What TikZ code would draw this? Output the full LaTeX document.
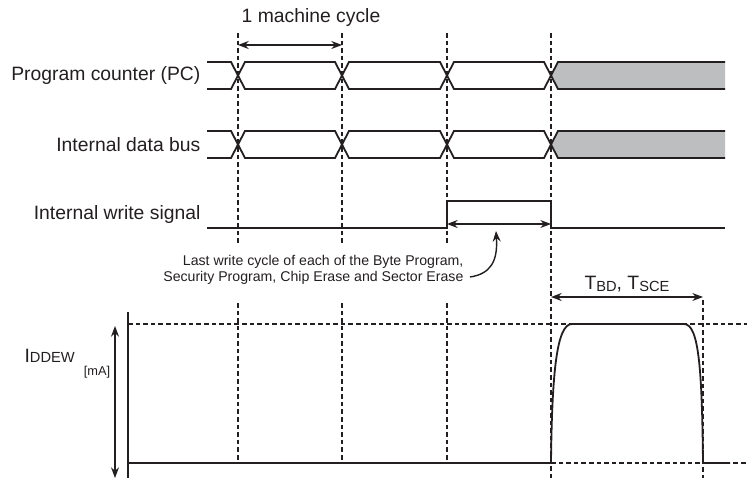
\documentclass[tikz,border=0pt]{standalone}
\usepackage{fontspec}
\setmainfont{Liberation Sans}
\usetikzlibrary{arrows.meta}
\definecolor{sigc}{HTML}{231F20}
\definecolor{holdc}{HTML}{BDBEC0}
\newcommand{\lowsub}[1]{\raisebox{-0.25ex}{\fontsize{11}{13}\selectfont #1}}
\tikzset{
  sig/.style={line width=1.35pt,sigc},
  guide/.style={line width=1.05pt,sigc,dash pattern=on 3.4pt off 2.3pt},
  span/.style={{Stealth[length=8pt,width=6pt]}-{Stealth[length=8pt,width=6pt]},line width=1.05pt,sigc},
  lbl/.style={font=\fontsize{14.5}{17}\selectfont,text=sigc,inner sep=1pt},
  note/.style={font=\fontsize{10.6}{11.8}\selectfont,text=sigc,align=right,inner sep=1pt}
}
\begin{document}
\begin{tikzpicture}[x=0.75pt,y=-0.75pt]
\useasboundingbox (0,0) rectangle (747,478);
% dashed guides
\foreach \gx in {238,342,447}{
  \draw[guide] (\gx,33)--(\gx,244);
  \draw[guide] (\gx,303)--(\gx,463);
}
\draw[guide] (551,33)--(551,478);
\draw[guide] (703,300)--(703,478);
\draw[guide] (128,324)--(747,324);
\draw[guide] (551,463)--(747,463);
% bus rows
\foreach \t/\m/\b in {62/75.5/89,131/144.5/158}{
  \fill[holdc] (551,\m)--(558,\t)--(725,\t)--(725,\b)--(558,\b)--cycle;
  \draw[sig] (207,\t)--(231,\t)--(245,\b)--(335,\b)--(349,\t)--(440,\t)--(454,\b)--(544,\b)--(558,\t)--(725,\t);
  \draw[sig] (207,\b)--(231,\b)--(245,\t)--(335,\t)--(349,\b)--(440,\b)--(454,\t)--(544,\t)--(558,\b)--(725,\b);
}
% write signal
\draw[sig] (207,228)--(447,228)--(447,201)--(551,201)--(551,228)--(725,228);
% current
\draw[sig] (128,312)--(128,478);
\draw[sig] (128,463)--(551,463) .. controls (552,370) and (557,324) .. (572,324)
  -- (684,324) .. controls (699,324) and (702,370) .. (703,463) -- (730,463);
% labels
\node[lbl,anchor=east] (pc) at (202,76) {Program counter (PC)};
\node[lbl,anchor=east] (bus) at (202,145) {Internal data bus};
\node[lbl,anchor=east] (wr) at (202,215) {Internal write signal};
\node[lbl] (mc) at (311,18) {1 machine cycle};
\node[note,anchor=east] (last) at (465,270) {Last write cycle of each of the Byte Program,\\Security Program, Chip Erase and Sector Erase};
\node[lbl] (tbd) at (627,284) {T\lowsub{BD}, T\lowsub{SCE}};
\node[lbl,anchor=west] (idd) at (23,356) {I{\fontsize{11}{13}\selectfont DDEW}};
\node[font=\fontsize{9.6}{11}\selectfont,text=sigc,inner sep=1pt] (unit) at (97,372) {[mA]};
% spans
\coordinate (mcl) at (238,45);
\coordinate (mcr) at (342,45);
\coordinate (wl) at (447,224);
\coordinate (wrr) at (551,224);
\coordinate (tl) at (551,297);
\coordinate (tr) at (703,297);
\coordinate (it) at (115,326);
\coordinate (ib) at (115,478);
\draw[span] (mcl)--(mcr);
\draw[span] (wl)--(wrr);
\draw[span] (tl)--(tr);
\draw[span] (it)--(ib);
% pointer
\coordinate (ptail) at (470,277);
\coordinate (phead) at (496,231);
\draw[-{Stealth[length=8pt,width=6pt]},line width=1.05pt,sigc] (ptail) .. controls (490,274) and (498,262) .. (phead);
\end{tikzpicture}
\end{document}
